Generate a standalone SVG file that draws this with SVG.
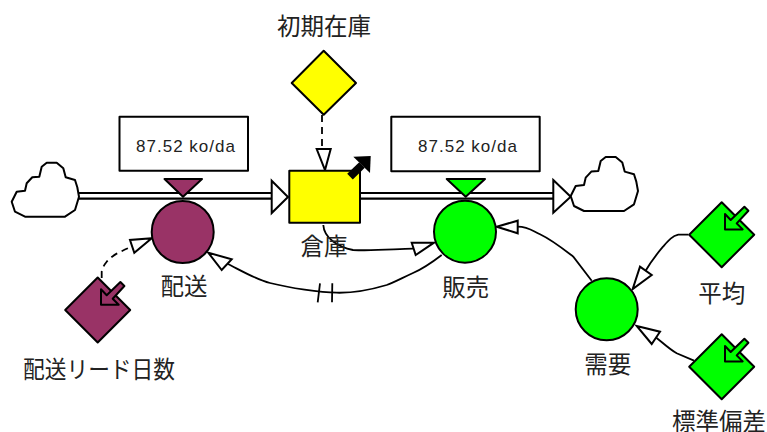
<svg xmlns="http://www.w3.org/2000/svg" xmlns:xlink="http://www.w3.org/1999/xlink" width="767" height="432" viewBox="0 0 767 432">
<style>
.s{stroke:#000;stroke-width:2;stroke-linejoin:round}
.line{fill:none;stroke:#000;stroke-width:1.8}
.pipe{fill:none;stroke:#000;stroke-width:2.2}
.dash{stroke-dasharray:7 5}
.head{fill:#fff;stroke:#000;stroke-width:2}
.m{fill:#993366}.g{fill:#00ff00}.y{fill:#ffff00}.w{fill:#fff}
text{font-family:"Noto Sans CJK JP","Noto Sans",sans-serif;font-size:23.5px;fill:#222;text-anchor:middle;dominant-baseline:central}
.v{font-family:"Liberation Sans",sans-serif;font-size:17px;text-anchor:start}
</style>
<defs>
<path id="cloud" class="s w" d="M79,196.7 L77.3,187.3 L75,180 L65.7,177.3 L63.3,168.3 L56.7,162.7 L46.7,162.7 L41.7,166.7 L39.3,176.7 L32.3,177.3 L26.7,183.3 L25,190.7 L16.7,191.7 L11.7,201.7 L15,211.7 L25,216.7 L65,216.7 L75,210 Z"/>
<path id="inner" class="s" d="M22.7,-28 L26.7,-24 L15,-11.3 L21,-5.3 L3.3,-5.3 L3.3,-20.7 L9,-14.7 Z"/>
<path id="dia" d="M0,-32.5 L32.5,0 L0,32.5 L-32.5,0 Z"/>
</defs>
<g id="connectors">
<path class="pipe" d="M79,193 H272 M79,198.7 H272"/>
<path class="pipe" d="M360,193 H554 M360,198.7 H554"/>
<path class="head" d="M271.7,180.7 L288,197 L271.7,213 Z"/>
<path class="head" d="M553.3,180 L570.7,196.7 L553.3,212.7 Z"/>
<path class="line dash" d="M322,115 V149"/>
<path class="head" d="M316.7,149 L330.7,149 L325,170 Z"/>
<path class="line" d="M323.3,225 C324,238 338,247 353,250 C375,251 395,249 413,248.7"/>
<path class="head" d="M411.7,242.7 L415.7,255 L434,242.7 Z"/>
<path class="line" d="M441.7,255 C430,264 420,270 413,273 C400,279 395,282 386.7,285 C370,290 350,293 336.7,292.7 C320,292.5 290,288 270,283 C255,279 240,270 228,264"/>
<path class="head" d="M208.3,252.7 L231.7,259.3 L221.7,270 Z"/>
<path class="line" d="M320,283.3 L317.7,302.3 M332.3,283.3 L332,302.3"/>
<path class="line dash" d="M101.7,290 V271.7 C103,267 104,265 106.7,261.7 C110,258 114,255 118,253 C122,251 126,249 131,247"/>
<path class="head" d="M151.7,238.3 L130,240 L134.3,252.7 Z"/>
<path class="line" d="M591.7,280.7 L573.3,256.7 C562,248 552,240 540,234.3 C532,230.5 528,226.7 517.7,226.7"/>
<path class="head" d="M496.7,226.7 L517.7,220.7 L517.7,233.3 Z"/>
<path class="line" d="M688.3,234.7 H678.3 C672,236 668,241 663,246.7 C656,255 650,263 645,271.7"/>
<path class="head" d="M632.7,289 L640,266.7 L651.7,275 Z"/>
<path class="line" d="M694,360.7 L676.7,353.3 C669,349 662,342 655,336.7"/>
<path class="head" d="M636.7,326 L660,331.7 L651.7,344 Z"/>
</g>
<g id="cloud-left"><use xlink:href="#cloud" href="#cloud"/></g>
<g id="cloud-right"><use xlink:href="#cloud" href="#cloud" x="559" y="-5.7"/></g>
<g id="initial-stock">
<path class="s y" d="M323.7,50.7 L356,83 L323.7,114.7 L291.7,83 Z"/>
<text x="324" y="25">初期在庫</text>
</g>
<g id="stock">
<rect class="s y" x="289.3" y="170.7" width="70.7" height="52"/>
<path d="M350,176.7 L362,165" fill="none" stroke="#000" stroke-width="8"/>
<path d="M353.3,156.7 L370.7,156 L370,173 Z" fill="#000"/>
<text x="324" y="245">倉庫</text>
</g>
<g id="delivery">
<rect class="s w" x="119.5" y="116.7" width="128.5" height="54"/>
<text class="v" x="136" y="146" textLength="99" lengthAdjust="spacing">87.52 ko/da</text>
<path class="s m" d="M164.5,179 L202,179 L183,196.7 Z"/>
<circle class="s m" cx="182.7" cy="232" r="31"/>
<text x="184" y="285">配送</text>
</g>
<g id="sales">
<rect class="s w" x="391.3" y="116.7" width="148.4" height="54.6"/>
<text class="v" x="418" y="146" textLength="99" lengthAdjust="spacing">87.52 ko/da</text>
<path class="s g" d="M446.7,179 L485,179 L465.7,196.7 Z"/>
<circle class="s g" cx="465" cy="231.7" r="31"/>
<text x="465.7" y="285.7">販売</text>
</g>
<g id="lead-time">
<use xlink:href="#dia" href="#dia" class="s m" x="97.7" y="310"/>
<use xlink:href="#inner" href="#inner" class="m" x="97.7" y="310"/>
<text x="99" y="367.7" textLength="152" lengthAdjust="spacingAndGlyphs">配送リード日数</text>
</g>
<g id="demand">
<circle class="s g" cx="606.7" cy="309.3" r="31"/>
<text x="607.7" y="363">需要</text>
</g>
<g id="mean">
<use xlink:href="#dia" href="#dia" class="s g" x="721.7" y="234.7"/>
<use xlink:href="#inner" href="#inner" class="g" x="721.7" y="234.7"/>
<text x="721.7" y="291.7">平均</text>
</g>
<g id="stddev">
<use xlink:href="#dia" href="#dia" class="s g" x="721.7" y="366.7"/>
<use xlink:href="#inner" href="#inner" class="g" x="721.7" y="366.7"/>
<text x="719" y="420" >標準偏差</text>
</g>
</svg>
